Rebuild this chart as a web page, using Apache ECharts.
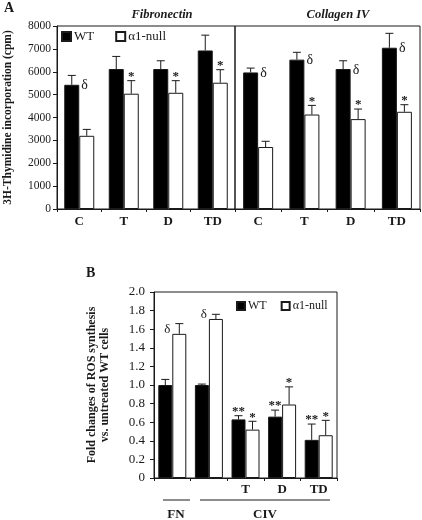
<!DOCTYPE html>
<html><head><meta charset="utf-8">
<script src="https://cdn.jsdelivr.net/npm/echarts@6/dist/echarts.min.js"></script>
<style>html,body{margin:0;padding:0;background:#fff}#c{width:422px;height:520px}</style>
</head><body><div id="c"></div>
<script>
// ---- Panel A data ----
const catsA = ['C', 'T', 'D', 'TD'];
const fnWT = [5430, 6120, 6120, 6930];
const fnWTErr = [5840, 6670, 6480, 7600];
const fnNull = [3200, 5040, 5080, 5520];
const fnNullErr = [3480, 5610, 5610, 6090];
const civWT = [5970, 6530, 6120, 7050];
const civWTErr = [6160, 6850, 6480, 7680];
const civNull = [2710, 4130, 3930, 4250];
const civNullErr = [2960, 4530, 4370, 4560];
const fnSigWT = ['δ', '', '', ''];
const fnSigNull = ['', '*', '*', '*'];
const civSigWT = ['δ', 'δ', 'δ', 'δ'];
const civSigNull = ['', '*', '*', '*'];
const yMinA = 0, yMaxA = 8000, yStepA = 1000;

// ---- Panel B data ----
const catsB = ['FN', 'CIV', 'T', 'D', 'TD'];
const catLabelsB = ['', '', 'T', 'D', 'TD'];
const rosWT = [1.00, 1.00, 0.63, 0.66, 0.41];
const rosWTErr = [1.06, 1.01, 0.67, 0.73, 0.58];
const rosNull = [1.55, 1.71, 0.52, 0.79, 0.46];
const rosNullErr = [1.66, 1.76, 0.61, 0.98, 0.62];
const rosSigWT = ['', '', '**', '**', '**'];
const rosSigNull = ['δ', 'δ', '*', '*', '*'];
const yMinB = 0, yMaxB = 2, yStepB = 0.2;

const SERIF = '"Liberation Serif", "Times New Roman", serif';
const INK = '#1a1a1a';

function errSeries(name, xi, yi, vals, errs, sigs, side, bw, deltaMode) {
  return {
    type: 'custom', name: name + '_err', xAxisIndex: xi, yAxisIndex: yi, silent: true, z: 10,
    data: vals.map((v, i) => [i, v, errs[i]]),
    renderItem: function (params, api) {
      const i = api.value(0);
      const c = api.coord([i, api.value(1)]);
      const e = api.coord([i, api.value(2)]);
      const x = c[0] + side * bw / 2;
      const ch = [
        { type: 'line', shape: { x1: x, y1: c[1], x2: x, y2: e[1] }, style: { stroke: INK, lineWidth: 1 } },
        { type: 'line', shape: { x1: x - 4, y1: e[1], x2: x + 4, y2: e[1] }, style: { stroke: INK, lineWidth: 1 } }
      ];
      const s = sigs[i];
      if (s === 'δ') {
        if (deltaMode === 'right') {
          ch.push({ type: 'text', style: { text: s, x: x + bw / 2 + 2, y: c[1] + 1, align: 'left', verticalAlign: 'middle', font: '14px ' + SERIF, fill: INK } });
        } else {
          ch.push({ type: 'text', style: { text: s, x: x - bw / 2 - 2, y: c[1] - 4, align: 'right', verticalAlign: 'middle', font: '13px ' + SERIF, fill: INK } });
        }
      } else if (s) {
        ch.push({ type: 'text', style: { text: s, x: x, y: e[1] - 4, align: 'center', verticalAlign: 'middle', font: 'bold 13px ' + SERIF, fill: INK } });
      }
      return { type: 'group', children: ch };
    }
  };
}

function barSeries(name, xi, yi, vals, color, bw) {
  return {
    type: 'bar', name: name, xAxisIndex: xi, yAxisIndex: yi, data: vals,
    barWidth: bw, barGap: '0%',
    itemStyle: { color: color, borderColor: INK, borderWidth: 1 }
  };
}

const chart = echarts.init(document.getElementById('c'), null, { renderer: 'canvas' });

const axisLineStyle = { lineStyle: { color: INK, width: 1 } };

const option = {
  animation: false,
  backgroundColor: '#fff',
  textStyle: { fontFamily: SERIF },
  grid: [
    { left: 57, top: 26, width: 178, height: 183, show: true, borderColor: INK, borderWidth: 1, containLabel: false },
    { left: 235, top: 26, width: 185, height: 183, show: true, borderColor: INK, borderWidth: 1, containLabel: false },
    { left: 154, top: 292, width: 183, height: 186, show: true, borderColor: INK, borderWidth: 1, containLabel: false }
  ],
  legend: [
    { data: ['WT', 'α1-null'], left: 61, top: 30, icon: 'rect', itemWidth: 9, itemHeight: 9, itemGap: 21,
      textStyle: { fontFamily: SERIF, fontSize: 13, color: INK, padding: [0, 0, 0, -2] }, padding: 0, selectedMode: false },
    { data: ['WT', 'α1-null'], left: 236, top: 300, icon: 'rect', itemWidth: 8, itemHeight: 8, itemGap: 14,
      textStyle: { fontFamily: SERIF, fontSize: 12, color: INK, padding: [0, 0, 0, -2] }, padding: 0, selectedMode: false }
  ],
  xAxis: [
    { type: 'category', gridIndex: 0, data: catsA, axisLine: axisLineStyle,
      axisTick: { show: true, length: 3, lineStyle: { color: INK } },
      axisLabel: { fontFamily: SERIF, fontWeight: 'bold', fontSize: 13, color: INK, margin: 6 } },
    { type: 'category', gridIndex: 1, data: catsA, axisLine: axisLineStyle,
      axisTick: { show: true, length: 3, lineStyle: { color: INK } },
      axisLabel: { fontFamily: SERIF, fontWeight: 'bold', fontSize: 13, color: INK, margin: 6 } },
    { type: 'category', gridIndex: 2, data: catsB, axisLine: axisLineStyle,
      axisTick: { show: true, length: 3, lineStyle: { color: INK } },
      axisLabel: { fontFamily: SERIF, fontWeight: 'bold', fontSize: 13, color: INK, margin: 5,
        formatter: function (v, i) { return catLabelsB[i]; } } }
  ],
  yAxis: [
    { type: 'value', gridIndex: 0, min: yMinA, max: yMaxA, interval: yStepA,
      axisLine: { show: true, lineStyle: { color: INK } },
      axisTick: { show: true, length: 4, lineStyle: { color: INK } },
      splitLine: { show: false },
      axisLabel: { fontFamily: SERIF, fontSize: 11.5, color: INK, margin: 6,
        formatter: function (v) { return String(v); } },
      name: '3H-Thymidine incorporation (cpm)', nameLocation: 'middle', nameGap: 43,
      nameTextStyle: { fontFamily: SERIF, fontWeight: 'bold', fontSize: 11.5, color: INK } },
    { type: 'value', gridIndex: 1, min: yMinA, max: yMaxA, interval: yStepA, show: false, splitLine: { show: false } },
    { type: 'value', gridIndex: 2, min: yMinB, max: yMaxB, interval: yStepB,
      axisLine: { show: true, lineStyle: { color: INK } },
      axisTick: { show: true, length: 4, lineStyle: { color: INK } },
      splitLine: { show: false },
      axisLabel: { fontFamily: SERIF, fontSize: 13, color: INK, margin: 9,
        formatter: function (v) { return v === 0 ? '0' : v.toFixed(1); } },
      name: 'Fold changes of ROS synthesis\nvs. untreated WT cells', nameLocation: 'middle', nameGap: 43,
      nameTextStyle: { fontFamily: SERIF, fontWeight: 'bold', fontSize: 12, color: INK, lineHeight: 13 } }
  ],
  series: [
    barSeries('WT', 0, 0, fnWT, '#000', 15),
    barSeries('α1-null', 0, 0, fnNull, '#fff', 15),
    barSeries('WT', 1, 1, civWT, '#000', 15),
    barSeries('α1-null', 1, 1, civNull, '#fff', 15),
    barSeries('WT', 2, 2, rosWT, '#000', 14),
    barSeries('α1-null', 2, 2, rosNull, '#fff', 14),
    errSeries('WT', 0, 0, fnWT, fnWTErr, fnSigWT, -1, 15, 'right'),
    errSeries('α1-null', 0, 0, fnNull, fnNullErr, fnSigNull, 1, 15, 'right'),
    errSeries('WT', 1, 1, civWT, civWTErr, civSigWT, -1, 15, 'right'),
    errSeries('α1-null', 1, 1, civNull, civNullErr, civSigNull, 1, 15, 'right'),
    errSeries('WT', 2, 2, rosWT, rosWTErr, rosSigWT, -1, 14, 'left'),
    errSeries('α1-null', 2, 2, rosNull, rosNullErr, rosSigNull, 1, 14, 'left')
  ],
  graphic: [
    { type: 'text', left: 4, top: 1, style: { text: 'A', font: 'bold 14px ' + SERIF, fill: INK } },
    { type: 'text', left: 86, top: 266, style: { text: 'B', font: 'bold 14px ' + SERIF, fill: INK } },
    { type: 'text', x: 162, y: 15, style: { text: 'Fibronectin', font: 'italic bold 12.5px ' + SERIF, fill: INK, align: 'center', verticalAlign: 'middle' } },
    { type: 'text', x: 338, y: 15, style: { text: 'Collagen IV', font: 'italic bold 12.5px ' + SERIF, fill: INK, align: 'center', verticalAlign: 'middle' } },
    { type: 'line', shape: { x1: 163, y1: 500, x2: 190, y2: 500 }, style: { stroke: INK, lineWidth: 1 } },
    { type: 'line', shape: { x1: 200, y1: 500, x2: 330, y2: 500 }, style: { stroke: INK, lineWidth: 1 } },
    { type: 'text', x: 176, y: 515, style: { text: 'FN', font: 'bold 13px ' + SERIF, fill: INK, align: 'center', verticalAlign: 'middle' } },
    { type: 'text', x: 265, y: 515, style: { text: 'CIV', font: 'bold 13px ' + SERIF, fill: INK, align: 'center', verticalAlign: 'middle' } }
  ]
};
chart.setOption(option);
</script>
</body></html>
